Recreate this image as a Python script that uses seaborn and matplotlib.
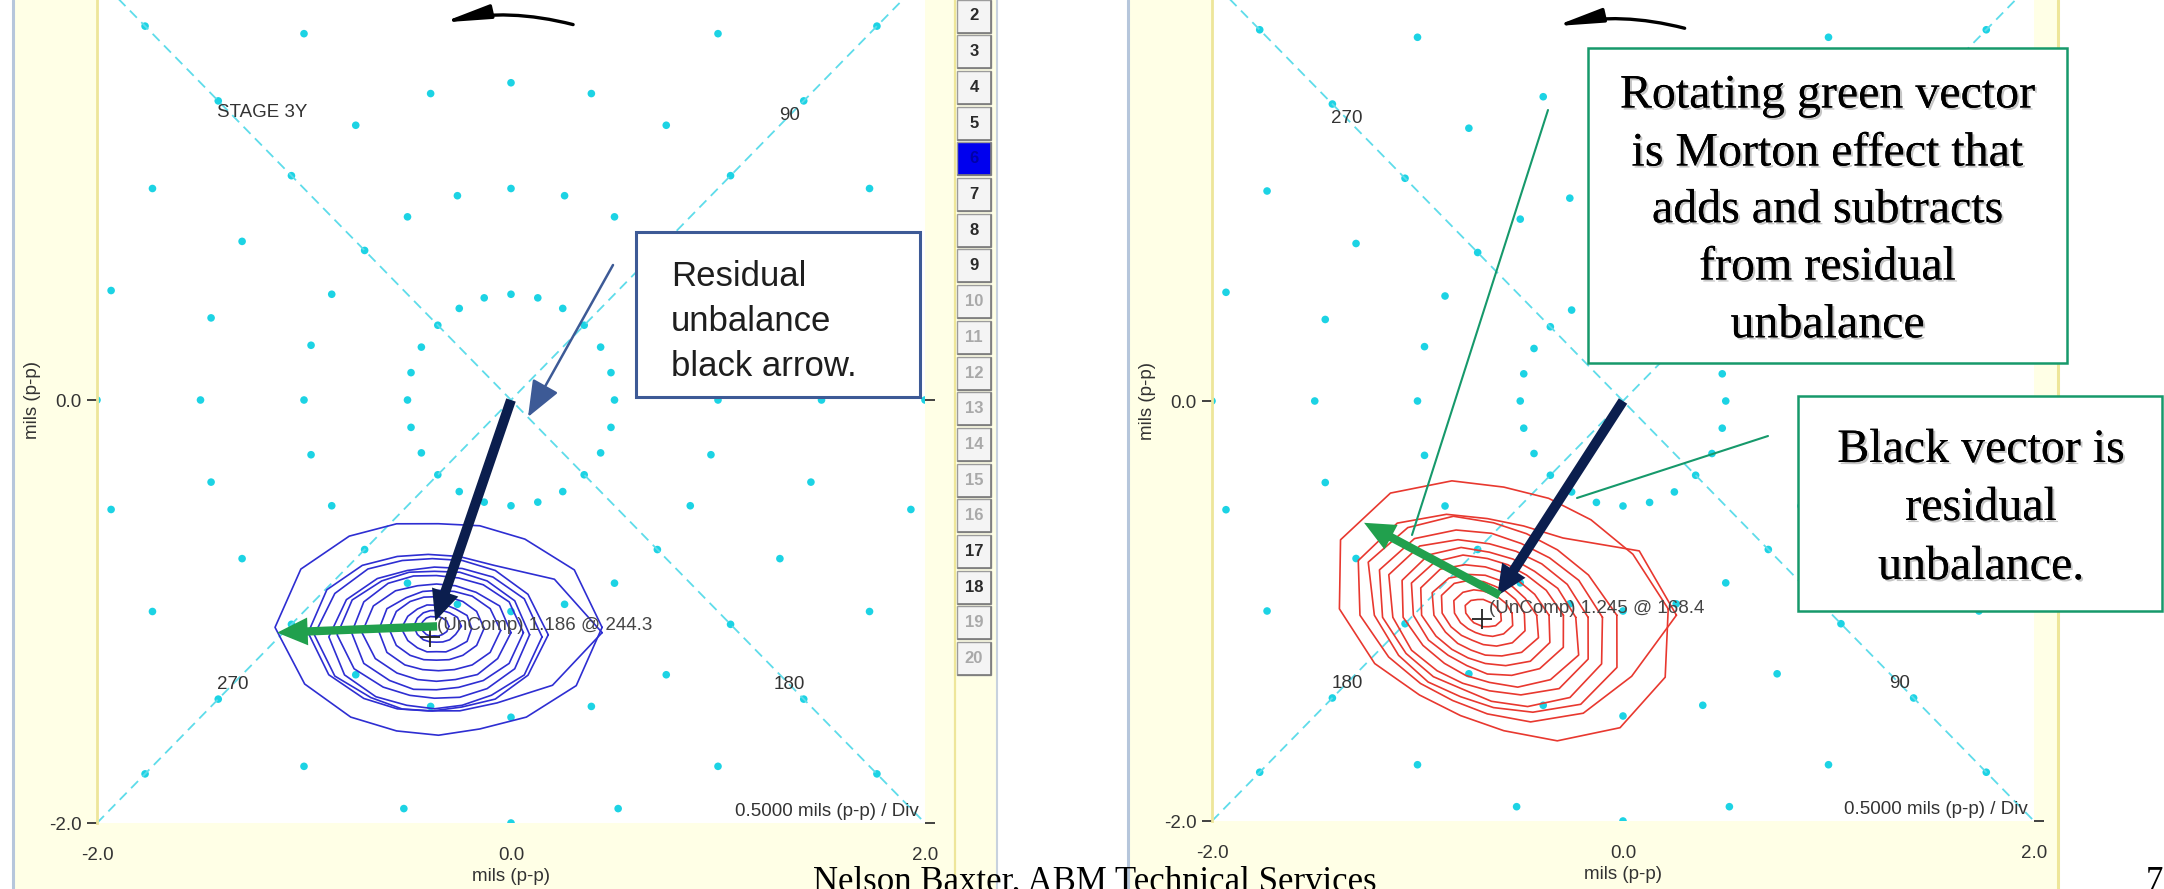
import numpy as np
import pandas as pd
import matplotlib
matplotlib.use("Agg")
import matplotlib.pyplot as plt
from matplotlib.patches import Rectangle, FancyArrowPatch
from matplotlib.lines import Line2D
from matplotlib import patheffects
import seaborn as sns

# ------------------------------------------------------------------ data
# polar grid of the orbit plots (mils p-p, degrees)
RING_RADII = [0.5, 1.0, 1.5, 2.0, 2.5]
SPOKE_ANGLES = [0, 15, 30, 45, 60, 75, 90, 105, 120, 135, 150, 165,
                180, 195, 210, 225, 240, 255, 270, 285, 300, 315, 330, 345]

# orbit outlines: radius of each orbit at these directions around its centre
ORBIT_ANGLES = [0, 22.5, 45, 67.5, 90, 112.5, 135, 157.5,
                180, 202.5, 225, 247.5, 270, 292.5, 315, 337.5]

# STAGE 3Y, first run (blue)
BLUE_CX = [-0.35, -0.40, -0.38, -0.37, -0.37, -0.36, -0.36, -0.35, -0.36, -0.36, -0.36, -0.37]
BLUE_CY = [-1.075, -1.10, -1.11, -1.12, -1.11, -1.10, -1.10, -1.09, -1.08, -1.08, -1.07, -1.07]
BLUE_RADII = [
    [0.79, 0.71, 0.59, 0.52, 0.49, 0.53, 0.61, 0.72, 0.79, 0.70, 0.60, 0.53, 0.51, 0.52, 0.60, 0.72],
    [0.84, 0.66, 0.45, 0.39, 0.37, 0.39, 0.45, 0.53, 0.58, 0.52, 0.44, 0.39, 0.37, 0.40, 0.47, 0.65],
    [0.56, 0.50, 0.43, 0.38, 0.36, 0.38, 0.44, 0.51, 0.57, 0.51, 0.42, 0.38, 0.36, 0.37, 0.43, 0.50],
    [0.52, 0.47, 0.40, 0.35, 0.33, 0.34, 0.39, 0.46, 0.51, 0.47, 0.40, 0.35, 0.34, 0.35, 0.39, 0.47],
    [0.46, 0.42, 0.36, 0.32, 0.30, 0.32, 0.36, 0.43, 0.47, 0.42, 0.35, 0.31, 0.30, 0.32, 0.36, 0.42],
    [0.42, 0.38, 0.32, 0.28, 0.27, 0.29, 0.33, 0.38, 0.41, 0.38, 0.32, 0.29, 0.27, 0.28, 0.32, 0.38],
    [0.36, 0.33, 0.27, 0.24, 0.23, 0.24, 0.28, 0.33, 0.36, 0.32, 0.27, 0.24, 0.23, 0.24, 0.28, 0.32],
    [0.30, 0.27, 0.23, 0.20, 0.19, 0.20, 0.22, 0.27, 0.29, 0.27, 0.23, 0.20, 0.19, 0.20, 0.23, 0.27],
    [0.23, 0.21, 0.18, 0.16, 0.15, 0.16, 0.18, 0.21, 0.23, 0.21, 0.18, 0.16, 0.15, 0.16, 0.18, 0.21],
    [0.17, 0.16, 0.13, 0.12, 0.11, 0.12, 0.13, 0.15, 0.17, 0.15, 0.13, 0.12, 0.11, 0.12, 0.13, 0.16],
    [0.12, 0.11, 0.09, 0.08, 0.075, 0.08, 0.09, 0.10, 0.11, 0.10, 0.09, 0.08, 0.075, 0.08, 0.09, 0.10],
    [0.07, 0.065, 0.055, 0.05, 0.045, 0.05, 0.055, 0.06, 0.07, 0.06, 0.055, 0.05, 0.045, 0.05, 0.055, 0.065],
]

# second run (red)
RED_CX = [-0.58, -0.66, -0.63, -0.64, -0.65, -0.65, -0.66, -0.67, -0.67, -0.68, -0.68, -0.68]
RED_CY = [-0.99, -1.02, -1.02, -1.03, -1.03, -1.03, -1.02, -1.02, -1.02, -1.01, -1.01, -1.01]
RED_RADII = [
    [0.80, 0.68, 0.60, 0.57, 0.58, 0.66, 0.78, 0.86, 0.80, 0.68, 0.58, 0.55, 0.58, 0.68, 0.80, 0.85],
    [0.92, 0.80, 0.52, 0.46, 0.46, 0.52, 0.62, 0.68, 0.62, 0.52, 0.46, 0.44, 0.47, 0.55, 0.66, 0.76],
    [0.60, 0.50, 0.44, 0.42, 0.44, 0.51, 0.59, 0.66, 0.58, 0.50, 0.45, 0.42, 0.44, 0.50, 0.60, 0.65],
    [0.54, 0.46, 0.40, 0.38, 0.40, 0.45, 0.53, 0.59, 0.53, 0.45, 0.40, 0.37, 0.40, 0.46, 0.54, 0.58],
    [0.48, 0.41, 0.36, 0.34, 0.35, 0.40, 0.48, 0.53, 0.47, 0.41, 0.36, 0.34, 0.35, 0.40, 0.48, 0.52],
    [0.42, 0.36, 0.31, 0.30, 0.31, 0.36, 0.42, 0.46, 0.42, 0.35, 0.31, 0.30, 0.31, 0.36, 0.42, 0.47],
    [0.37, 0.31, 0.27, 0.26, 0.27, 0.31, 0.36, 0.40, 0.36, 0.31, 0.27, 0.26, 0.28, 0.31, 0.36, 0.40],
    [0.31, 0.26, 0.23, 0.22, 0.23, 0.26, 0.31, 0.34, 0.31, 0.26, 0.23, 0.22, 0.23, 0.26, 0.31, 0.34],
    [0.25, 0.21, 0.19, 0.18, 0.19, 0.21, 0.25, 0.28, 0.25, 0.21, 0.19, 0.18, 0.19, 0.21, 0.25, 0.28],
    [0.20, 0.17, 0.15, 0.14, 0.15, 0.17, 0.20, 0.22, 0.20, 0.17, 0.15, 0.14, 0.15, 0.17, 0.20, 0.22],
    [0.14, 0.12, 0.105, 0.10, 0.105, 0.12, 0.14, 0.155, 0.14, 0.12, 0.105, 0.10, 0.105, 0.12, 0.14, 0.155],
    [0.085, 0.07, 0.065, 0.06, 0.065, 0.07, 0.085, 0.095, 0.085, 0.07, 0.065, 0.06, 0.065, 0.07, 0.085, 0.095],
]

# uncompensated 1X vectors: amplitude (mils p-p), phase (deg)
LEFT_AMP, LEFT_PHASE = 1.186, 244.3
RIGHT_AMP, RIGHT_PHASE = 1.245, 168.4
# direction (math degrees) of phase 0 on each plot; phase runs clockwise
LEFT_ZERO_DIR = 135.0
RIGHT_ZERO_DIR = 45.0

# Morton-effect (rotating) vectors, tail -> tip, mils p-p
GREEN_LEFT_X = [-0.357, -1.13]
GREEN_LEFT_Y = [-1.07, -1.10]
GREEN_RIGHT_X = [-0.60, -1.26]
GREEN_RIGHT_Y = [-0.925, -0.58]

LEFT_PHASE_LABELS = [90, 180, 270]
RIGHT_PHASE_LABELS = [90, 180, 270]
LABEL_RADIUS = 1.90

X_TICKS = [-2.0, 0.0, 2.0]
X_TICK_LABELS = ["-2.0", "0.0", "2.0"]
Y_TICKS = [-2.0, 0.0]
Y_TICK_LABELS = ["-2.0", "0.0"]

PLOT_BUTTONS = list(range(2, 21))
ACTIVE_BUTTON = 6
DIMMED_BUTTONS = [10, 11, 12, 13, 14, 15, 16, 19, 20]

# ------------------------------------------------------------------ style
sns.set_theme(style="white")
plt.rcParams["font.family"] = ["Liberation Sans", "DejaVu Sans"]

W, H = 2164, 889
fig = plt.figure(figsize=(W / 100, H / 100), dpi=100)
fig.patch.set_facecolor("white")

YELLOW = "#FFFFE6"
YELLOW_LINE = "#EEE69A"
FRAME_LINE = "#B6C6DB"
CYAN = "#1CD3E4"
CYAN_DASH = "#5EDCEA"
BLUE = "#2E2ED2"
RED = "#E8382F"
NAVY = "#0B1E4E"
GREEN = "#21A04D"
BOX_NAVY = "#3D5A96"
BOX_GREEN = "#16996B"
LABEL_GRAY = "#333333"
SMALL = 13.5


def fx(px):
    return px / W


def fy(py):
    return 1 - py / H


def frame_rect(x0, y0, x1, y1, **kw):
    r = Rectangle((fx(x0), fy(y1)), (x1 - x0) / W, (y1 - y0) / H,
                  transform=fig.transFigure, **kw)
    fig.add_artist(r)
    return r


def vline(px, color, lw, z=-4):
    fig.add_artist(Line2D([fx(px), fx(px)], [0, 1], transform=fig.transFigure,
                          color=color, lw=lw, zorder=z))


# screen-capture frames behind the plots
frame_rect(13, 0, 997, H, facecolor=YELLOW, edgecolor="none", zorder=-5)
frame_rect(1128, 0, 2060, H, facecolor=YELLOW, edgecolor="none", zorder=-5)
vline(13, FRAME_LINE, 2.2)
vline(997, "#C8D2DE", 1.5)
vline(955, YELLOW_LINE, 1.6)
vline(1128, FRAME_LINE, 2.2)
vline(2058, YELLOW_LINE, 2.2)


def add_plot_axes(x_left, x_right, y_zero, y_minus2):
    unit = (y_minus2 - y_zero) / 2.0
    y_top = y_zero - 2 * unit
    ax = fig.add_axes([fx(x_left), fy(y_minus2), (x_right - x_left) / W,
                       (y_minus2 - y_top) / H])
    ax.set_facecolor("white")
    return ax


def grid_frame():
    rows = []
    for r in RING_RADII:
        for a in SPOKE_ANGLES:
            t = np.radians(a)
            rows.append({"x": r * np.cos(t), "y": r * np.sin(t)})
    return pd.DataFrame(rows)


def orbit_frame(cx, cy, radii_sets):
    rows = []
    for i, (x0, y0, radii) in enumerate(zip(cx, cy, radii_sets)):
        angs = ORBIT_ANGLES + [ORBIT_ANGLES[0]]
        rads = radii + [radii[0]]
        for j, (a, r) in enumerate(zip(angs, rads)):
            t = np.radians(a)
            rows.append({"orbit": i, "step": j,
                         "x": x0 + r * np.cos(t), "y": y0 + r * np.sin(t)})
    return pd.DataFrame(rows)


def vector_xy(amp, phase, zero_dir):
    t = np.radians(zero_dir - phase)
    return amp * np.cos(t), amp * np.sin(t)


def draw_polar_plot(ax, orbit_df, orbit_color, amp, phase, zero_dir,
                    phase_labels, green_x, green_y, tip_gap):
    grid = grid_frame()
    sns.scatterplot(data=grid, x="x", y="y", ax=ax, color=CYAN, s=30,
                    edgecolor="none", legend=False, zorder=1)
    for slope in (1, -1):
        ax.axline((0, 0), slope=slope, color=CYAN_DASH, lw=1.3,
                  ls=(0, (5.5, 3.5)), zorder=1)

    sns.lineplot(data=orbit_df, x="x", y="y", units="orbit", estimator=None,
                 sort=False, color=orbit_color, lw=1.2, ax=ax, legend=False,
                 zorder=2)

    ax.set_xlim(-2, 2)
    ax.set_ylim(-2, 2)

    # phase labels
    for p in phase_labels:
        lx, ly = vector_xy(LABEL_RADIUS, p, zero_dir)
        ax.text(lx, ly, str(p), ha="center", va="center", fontsize=SMALL,
                color=LABEL_GRAY, zorder=3)

    # scale note
    ax.text(1.97, -1.945, "0.5000 mils (p-p) / Div", ha="right", va="center",
            fontsize=SMALL, color=LABEL_GRAY, zorder=3)

    # rotation direction arrow at the top
    ax.annotate("", xy=(-0.33, 1.785), xytext=(0.30, 1.775),
                arrowprops=dict(arrowstyle="-|>,head_length=2.8,head_width=0.42",
                                mutation_scale=10, lw=2.4, color="black",
                                connectionstyle="arc3,rad=0.12",
                                shrinkA=0, shrinkB=0), zorder=4)

    # uncompensated vector: cursor, readout and residual arrow
    vx, vy = vector_xy(amp, phase, zero_dir)
    ax.plot([vx], [vy], marker="+", ms=14, mew=1.3, color="#222222", zorder=4)
    ax.annotate(f"(UnComp) {amp:.3f} @ {phase:.1f}", xy=(vx, vy),
                xytext=(5, 8), textcoords="offset points", ha="left",
                va="center", fontsize=SMALL, color="#444444", zorder=4)
    ax.annotate("", xy=(vx, vy), xytext=(0, 0),
                arrowprops=dict(arrowstyle="simple,head_length=2.2,head_width=2.0,tail_width=0.72",
                                mutation_scale=10, color=NAVY, lw=0,
                                shrinkA=0, shrinkB=tip_gap), zorder=5)
    ax.annotate("", xy=(green_x[1], green_y[1]), xytext=(green_x[0], green_y[0]),
                arrowprops=dict(arrowstyle="simple,head_length=2.2,head_width=2.0,tail_width=0.6",
                                mutation_scale=10, color=GREEN, lw=0,
                                shrinkA=0, shrinkB=0), zorder=5)

    # axes furniture
    ax.set_xticks(X_TICKS)
    ax.set_xticklabels(X_TICK_LABELS)
    ax.set_yticks(Y_TICKS)
    ax.set_yticklabels(Y_TICK_LABELS)
    ax.yaxis.set_ticks_position("both")
    ax.tick_params(axis="both", direction="out", length=7, width=1.3,
                   colors="#333333", labelsize=SMALL)
    ax.tick_params(axis="x", pad=10)
    ax.tick_params(axis="y", pad=4, labelright=False)
    ax.set_xlabel("mils (p-p)", fontsize=SMALL, color="#333333", labelpad=3)
    ax.set_ylabel("mils (p-p)", fontsize=SMALL, color="#333333", labelpad=6)
    for side in ("top", "right", "bottom"):
        ax.spines[side].set_visible(False)
    ax.spines["left"].set_color(YELLOW_LINE)
    ax.spines["left"].set_linewidth(2)


# left plot: first run
ax_l = add_plot_axes(97, 925, 400, 823)
draw_polar_plot(ax_l, orbit_frame(BLUE_CX, BLUE_CY, BLUE_RADII), BLUE,
                LEFT_AMP, LEFT_PHASE, LEFT_ZERO_DIR, LEFT_PHASE_LABELS,
                GREEN_LEFT_X, GREEN_LEFT_Y, tip_gap=12)
ax_l.text(-1.42, 1.36, "STAGE 3Y", ha="left", va="center", fontsize=SMALL,
          color=LABEL_GRAY, zorder=3)

# right plot: second run
ax_r = add_plot_axes(1212, 2034, 401, 821)
draw_polar_plot(ax_r, orbit_frame(RED_CX, RED_CY, RED_RADII), RED,
                RIGHT_AMP, RIGHT_PHASE, RIGHT_ZERO_DIR, RIGHT_PHASE_LABELS,
                GREEN_RIGHT_X, GREEN_RIGHT_Y, tip_gap=20)

# plot selector buttons between the two captures
for n in PLOT_BUTTONS:
    cy = 16 + (n - 2) * 35.7
    active = n == ACTIVE_BUTTON
    frame_rect(957, cy - 16.5, 991, cy + 16.5,
               facecolor="#0000EE" if active else "#F4F4F4",
               edgecolor="#9C9C9C", lw=1.0, zorder=1)
    fig.add_artist(Line2D([fx(958), fx(991), fx(991)],
                          [fy(cy + 16.5), fy(cy + 16.5), fy(cy - 15.5)],
                          transform=fig.transFigure, color="#7A7A7A", lw=1.2,
                          zorder=1.5))
    if active:
        col = "#0000A8"
    elif n in DIMMED_BUTTONS:
        col = "#A9A9A9"
    else:
        col = "#2A2A2A"
    fig.text(fx(974), fy(cy), str(n), ha="center", va="center", fontsize=12,
             fontweight="bold", color=col, zorder=2)

# callout: residual unbalance (left)
frame_rect(636, 232, 920, 397, facecolor="white", edgecolor=BOX_NAVY, lw=2.2,
           zorder=5)
for txt, base in zip(["Residual", "unbalance", "black arrow."], [286, 331, 376]):
    fig.text(fx(671), fy(base), txt, ha="left", va="baseline", fontsize=25,
             color="#1E1E1E", zorder=6)
fig.add_artist(FancyArrowPatch((fx(613), fy(265)), (fx(528), fy(417)),
                               transform=fig.transFigure,
                               arrowstyle="-|>,head_length=1.5,head_width=0.6",
                               mutation_scale=15, lw=1.8, color=BOX_NAVY,
                               shrinkA=0, shrinkB=0, zorder=6))

# callouts on the right plot
shadow = [patheffects.withSimplePatchShadow(offset=(1.5, -1.5),
                                            shadow_rgbFace="#808080", alpha=0.45),
          patheffects.Normal()]
frame_rect(1588, 48, 2067, 363, facecolor="white", edgecolor=BOX_GREEN, lw=1.8,
           zorder=5)
for txt, base in zip(["Rotating green vector", "is Morton effect that",
                      "adds and subtracts", "from residual", "unbalance"],
                     [107.5, 165.5, 222.2, 279.5, 337.3]):
    fig.text(fx(1827.5), fy(base), txt, ha="center", va="baseline", fontsize=34.5,
             family=["Liberation Serif", "DejaVu Serif"], color="black",
             zorder=6, path_effects=shadow)

frame_rect(1798, 396, 2162, 611, facecolor="white", edgecolor=BOX_GREEN, lw=1.8,
           zorder=5)
for txt, base in zip(["Black vector is", "residual", "unbalance."], [462, 520, 579]):
    fig.text(fx(1981), fy(base), txt, ha="center", va="baseline", fontsize=34.5,
             family=["Liberation Serif", "DejaVu Serif"], color="black",
             zorder=6, path_effects=shadow)

fig.add_artist(Line2D([fx(1548), fx(1412)], [fy(110), fy(535)],
                      transform=fig.transFigure, color=BOX_GREEN, lw=1.5, zorder=6))
fig.add_artist(Line2D([fx(1768), fx(1577)], [fy(436), fy(498)],
                      transform=fig.transFigure, color=BOX_GREEN, lw=1.5, zorder=6))

# slide footer, running off the bottom edge of the slide
fig.text(fx(813), fy(891), "Nelson Baxter, ABM Technical Services", ha="left",
         va="baseline", fontsize=25, family=["Liberation Serif", "DejaVu Serif"],
         color="black", zorder=7)
fig.text(fx(2146), fy(891), "7", ha="left", va="baseline", fontsize=25,
         family=["Liberation Serif", "DejaVu Serif"], color="black", zorder=7)

fig.savefig("out.png", dpi=100, facecolor="white")
